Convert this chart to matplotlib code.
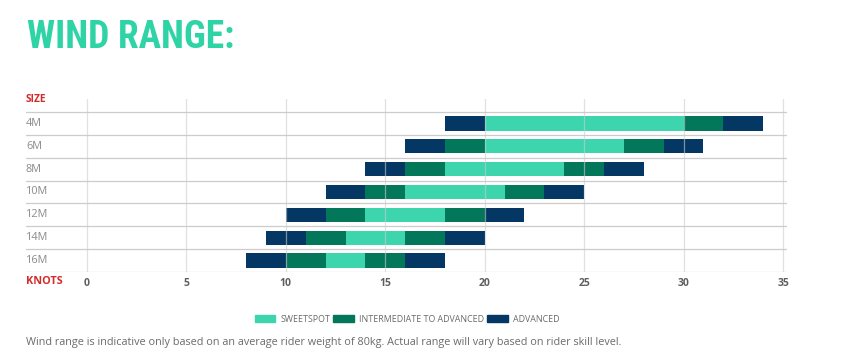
import matplotlib
matplotlib.use('Agg')
import matplotlib.pyplot as plt
from matplotlib.patches import Patch
from matplotlib import font_manager

# kite sizes and wind ranges (knots)
sizes = ['4M', '6M', '8M', '10M', '12M', '14M', '16M']
adv_min = [18, 16, 14, 12, 10, 9, 8]
int_min = [20, 18, 16, 14, 12, 11, 10]
sweet_min = [20, 20, 18, 16, 14, 13, 12]
sweet_max = [30, 27, 24, 21, 18, 16, 14]
int_max = [32, 29, 26, 23, 20, 18, 16]
adv_max = [34, 31, 28, 25, 22, 20, 18]
xticks = [0, 5, 10, 15, 20, 25, 30, 35]

c_sweet = '#3dd5ae'
c_int = '#02775a'
c_adv = '#053764'
c_red = '#d42a2a'
c_grey = '#6b6b6b'
c_grid = '#cccccc'
font = ['Open Sans', 'DejaVu Sans']

# condensed face for the title, if there is one
names = {f.name for f in font_manager.fontManager.ttflist}
title_font, title_size = 'DejaVu Sans', 19
for nm, sz in [('Liberation Sans Narrow', 27), ('Roboto Condensed', 27),
               ('DejaVu Sans Condensed', 22), ('Open Sans Condensed', 27)]:
    if nm in names:
        title_font, title_size = nm, sz
        break

W, H = 859, 353
fig = plt.figure(figsize=(W / 100, H / 100), dpi=100)
fig.patch.set_facecolor('white')

left, right, top, bottom = 26, 787, 99, 272.3
ax = fig.add_axes([left / W, 1 - bottom / H, (right - left) / W, (bottom - top) / H])

# pixel 87 -> 0 knots, 783 -> 35 knots
ppu = (783 - 87) / 35
ax.set_xlim((left - 87) / ppu, (right - 87) / ppu)
row_h = (bottom - 111.7) / 7
ax.set_ylim(7, -(111.7 - top) / row_h)

y = [i + 0.5 for i in range(len(sizes))]
bh = 0.64

def seg(a, b, color):
    ax.barh(y, [bb - aa for aa, bb in zip(a, b)], left=a, height=bh,
            color=color, zorder=2, linewidth=0)

seg(adv_min, int_min, c_adv)
seg(int_min, sweet_min, c_int)
seg(sweet_min, sweet_max, c_sweet)
seg(sweet_max, int_max, c_int)
seg(int_max, adv_max, c_adv)

for k in range(8):
    ax.axhline(k, color=c_grid, lw=0.9, zorder=1)
for xt in xticks:
    ax.axvline(xt, color=c_grid, lw=0.9, zorder=3, alpha=0.6)

for s in ax.spines.values():
    s.set_visible(False)
ax.set_yticks([])
ax.set_xticks(xticks)
ax.set_xticklabels([str(v) for v in xticks], fontsize=7.5, color='#5e5e5e',
                   fontweight='bold', family=font)
ax.tick_params(axis='x', length=0, pad=4)

x0 = ax.get_xlim()[0]
for yy, lab in zip(y, sizes):
    ax.text(x0, yy, lab, ha='left', va='center', fontsize=7.8, color='#8a8a8a',
            family=font)

fig.text(left / W, 1 - 100 / H, 'SIZE', ha='left', va='center', fontsize=7.3,
         color=c_red, fontweight='bold', family=font)
fig.text(left / W, 1 - 282 / H, 'KNOTS', ha='left', va='center', fontsize=7.8,
         color=c_red, fontweight='bold', family=font)

fig.text(27 / W, 1 - 37 / H, 'WIND RANGE:', ha='left', va='center',
         fontsize=title_size, color='#2ed3a6', fontweight='bold',
         family=[title_font, 'DejaVu Sans'])

handles = [Patch(color=c_sweet), Patch(color=c_int), Patch(color=c_adv)]
fig.legend(handles, ['SWEETSPOT', 'INTERMEDIATE TO ADVANCED', 'ADVANCED'],
           loc='center', bbox_to_anchor=(407 / W, 1 - 319 / H), ncol=3,
           frameon=False, handlelength=2.3, handleheight=0.9, handletextpad=0.6,
           columnspacing=0.35, prop={'family': font, 'size': 6.4}, labelcolor=c_grey)

fig.text(left / W, 1 - 343 / H,
         'Wind range is indicative only based on an average rider weight of 80kg. '
         'Actual range will vary based on rider skill level.',
         ha='left', va='center', fontsize=7.85, color=c_grey, family=font)

fig.savefig('out.png', dpi=100, facecolor='white')
